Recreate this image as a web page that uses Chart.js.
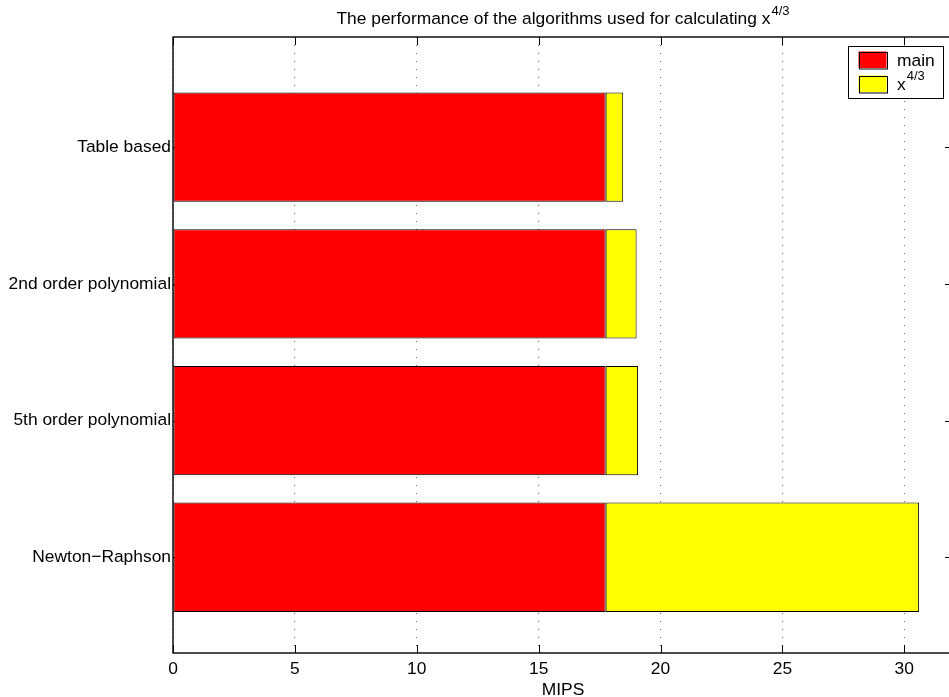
<!DOCTYPE html>
<html>
<head>
<meta charset="utf-8">
<title>Performance of x^(4/3) algorithms</title>
<script src="https://cdn.jsdelivr.net/npm/chart.js@4/dist/chart.umd.min.js"></script>
<style>
  html, body { margin: 0; padding: 0; overflow: hidden; background: #fff; width: 949px; height: 697px; }
  #wrap { position: relative; width: 953px; height: 697px; }
</style>
</head>
<body>
<div id="wrap"><canvas id="c" width="953" height="697"></canvas></div>
<script>
// Algorithms, listed top to bottom
const categories = ['Table based', '2nd order polynomial', '5th order polynomial', 'Newton\u2212Raphson'];
// Position of each algorithm on the value-index axis (bottom = 1)
const positions = [4, 3, 2, 1];
// MIPS spent in the main loop
const mainMips = [17.75, 17.75, 17.75, 17.75];
// Additional MIPS spent computing x^(4/3)
const powMips = [0.72, 1.27, 1.33, 12.86];
// Tick values along the MIPS axis
const xTicks = [0, 5, 10, 15, 20, 25, 30];
const seriesNames = ['main', 'x'];
const seriesSup = ['', '4/3'];
const seriesColors = ['#ff0000', '#ffff00'];

const FONT = "'Liberation Sans', Arial, Helvetica, sans-serif";
const FS = 17.4;     // text size
const SUP = 13;      // superscript size
Chart.defaults.font.family = FONT;
Chart.defaults.font.size = FS;
Chart.defaults.color = '#000';

function line(ctx, x1, y1, x2, y2) {
  ctx.beginPath(); ctx.moveTo(x1, y1); ctx.lineTo(x2, y2); ctx.stroke();
}

// Draws text followed by a raised, smaller superscript; returns total width
function supText(ctx, x, y, base, sup, dy, measureOnly) {
  ctx.font = FS + 'px ' + FONT;
  const w1 = ctx.measureText(base).width;
  ctx.font = SUP + 'px ' + FONT;
  const w2 = sup ? ctx.measureText(sup).width : 0;
  if (!measureOnly) {
    ctx.font = FS + 'px ' + FONT;
    ctx.fillText(base, x, y);
    if (sup) { ctx.font = SUP + 'px ' + FONT; ctx.fillText(sup, x + w1 + 1, y - dy); }
  }
  return w1 + w2 + 1;
}

const axesBox = {
  id: 'axesBox',
  beforeDatasetsDraw(chart) {
    // inward tick marks (beneath the bars)
    const { ctx, chartArea: a, scales: { x, y } } = chart;
    const L = 8;
    ctx.save();
    ctx.strokeStyle = '#000';
    ctx.lineWidth = 1;
    xTicks.forEach(v => {
      const px = Math.round(x.getPixelForValue(v)) + 0.5;
      line(ctx, px, a.bottom, px, a.bottom - L);
      line(ctx, px, a.top, px, a.top + L);
    });
    positions.forEach(v => {
      const py = Math.round(y.getPixelForValue(v)) + 0.5;
      line(ctx, a.left, py, a.left + L, py);
      line(ctx, a.right, py, a.right - L, py);
    });
    ctx.restore();
  },
  afterDatasetsDraw(chart) {
    const { ctx, chartArea: a } = chart;
    ctx.save();
    // axes frame
    ctx.strokeStyle = '#000';
    ctx.lineWidth = 1.4;
    ctx.strokeRect(a.left, a.top, a.right - a.left, a.bottom - a.top);

    // title with superscript
    ctx.fillStyle = '#000';
    ctx.textBaseline = 'alphabetic';
    ctx.textAlign = 'left';
    const tBase = 'The performance of the algorithms used for calculating x';
    const tw = supText(ctx, 0, 0, tBase, '4/3', 9.5, true);
    const cx = (a.left + a.right) / 2;
    supText(ctx, cx - tw / 2, a.top - 13, tBase, '4/3', 9.5, false);

    // legend
    const bx = a.right - 105, by = a.top + 8.5, bw = 95.3, bh = 52;
    ctx.fillStyle = '#fff';
    ctx.fillRect(bx, by, bw, bh);
    ctx.lineWidth = 1;
    ctx.strokeStyle = '#000';
    ctx.strokeRect(Math.round(bx) + 0.5, Math.round(by) + 0.5, Math.round(bw), Math.round(bh));
    seriesNames.forEach((name, i) => {
      const sy = by + 6 + i * 24;
      ctx.fillStyle = seriesColors[i];
      ctx.fillRect(bx + 10.5, sy, 28, 16.5);
      ctx.strokeStyle = '#000';
      ctx.strokeRect(Math.round(bx + 10.5) + 0.5, Math.round(sy) + 0.5, 28, 16.5);
      ctx.fillStyle = '#000';
      supText(ctx, bx + 49, sy + 14, name, seriesSup[i], 9.5, false);
    });
    ctx.restore();
  }
};

const ctx = document.getElementById('c').getContext('2d');
new Chart(ctx, {
  type: 'bar',
  data: {
    datasets: [
      {
        label: 'main',
        data: positions.map((p, i) => ({ y: p, x: mainMips[i] })),
        backgroundColor: seriesColors[0],
        borderColor: '#000', borderWidth: 1, borderSkipped: false,
        barPercentage: 0.8, categoryPercentage: 1, stack: 's'
      },
      {
        label: 'x^4/3',
        data: positions.map((p, i) => ({ y: p, x: powMips[i] })),
        backgroundColor: seriesColors[1],
        borderColor: '#000', borderWidth: 1, borderSkipped: false,
        barPercentage: 0.8, categoryPercentage: 1, stack: 's'
      }
    ]
  },
  options: {
    indexAxis: 'y',
    responsive: false,
    animation: false,
    layout: { padding: { top: 37, left: 0, right: 0, bottom: 0 } },
    plugins: { legend: { display: false }, title: { display: false }, tooltip: { enabled: false } },
    scales: {
      x: {
        type: 'linear', stacked: true, min: 0, max: 32,
        afterBuildTicks(s) { s.ticks = xTicks.map(v => ({ value: v })); },
        afterFit(s) { s.height = 44; },
        grid: { color: 'rgba(0,0,0,0.6)', lineWidth: 1, drawTicks: false },
        border: { display: false, dash: [1, 7] },
        ticks: { padding: 6, maxRotation: 0, autoSkip: false, color: '#000' },
        title: { display: true, text: 'MIPS', color: '#000', padding: { top: 0, bottom: -3.5 } }
      },
      y: {
        type: 'linear', stacked: true, min: 0.3, max: 4.806, offset: false,
        afterBuildTicks(s) { s.ticks = positions.map(v => ({ value: v })); },
        afterFit(s) { s.width = 173; },
        grid: { display: false, drawTicks: false, offset: false },
        border: { display: false },
        ticks: {
          padding: 2, autoSkip: false, color: '#000',
          callback: v => categories[positions.indexOf(v)]
        }
      }
    }
  },
  plugins: [axesBox]
});
</script>
</body>
</html>
